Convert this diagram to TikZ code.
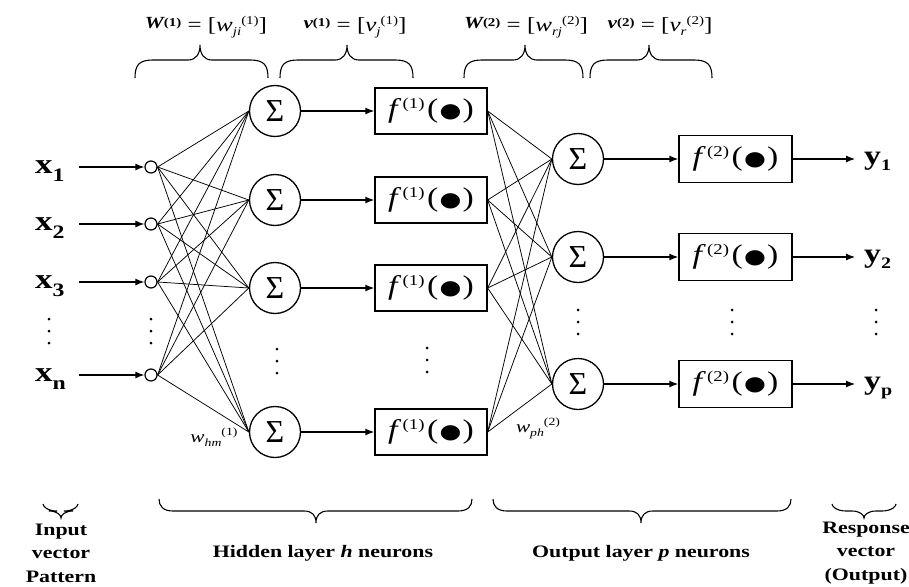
\documentclass[tikz,border=0pt]{standalone}
\usepackage{fontspec}
\setmainfont{Liberation Serif}
\newfontfamily\dejavu{DejaVu Sans}
\usepackage{graphicx}
\usetikzlibrary{arrows.meta}

\newcommand\hs[1]{\scalebox{1.25}[1]{#1}}
\newcommand\vlab[2]{\hs{\fontsize{28}{28}\selectfont\bfseries #1\raisebox{-8pt}{\fontsize{19}{19}\selectfont #2}}}
\newcommand\ylab[2]{\hs{\fontsize{27}{27}\selectfont\bfseries #1\raisebox{-6pt}{\fontsize{16}{16}\selectfont #2}}}
\newcommand\fn[1]{\hs{\fontsize{27}{27}\selectfont\textit{f}\kern1pt\raisebox{9pt}{\fontsize{15}{15}\selectfont(#1)}\kern2pt(\kern1pt{\dejavu\fontsize{20}{20}\selectfont ●}\kern1pt)}}
\newcommand\sumsym{\fontsize{32}{32}\selectfont Σ}
\newcommand\wlab[3]{\hs{\fontsize{17}{17}\selectfont\textit{#1}\raisebox{-4pt}{\fontsize{11}{11}\selectfont\textit{#2}}\raisebox{7pt}{\fontsize{11}{11}\selectfont(#3)}}}
\newcommand\toplab[4]{\hs{\fontsize{20}{20}\selectfont\raisebox{3pt}{\fontsize{17}{17}\selectfont\bfseries\itshape #1\raisebox{2pt}{\fontsize{12}{12}\selectfont\upshape(#2)}} = [\textit{#3}\raisebox{-4pt}{\fontsize{12}{12}\selectfont\textit{#4}}\raisebox{7pt}{\fontsize{12}{12}\selectfont(#2)}]}}
\newcommand\bracetop[3]{%
  \draw[bracestyle] (#1,78) .. controls (#1,65) and (#1+4,60) .. (#1+18,60) -- (#2-12,60)
    .. controls (#2-4,60) and (#2,54) .. (#2,45) .. controls (#2,54) and (#2+4,60) .. (#2+12,60)
    -- (#3-18,60) .. controls (#3-4,60) and (#3,65) .. (#3,78);}
\newcommand\bracebot[6]{%
  \draw[bracestyle] (#1,#4) .. controls (#1,#5-5) and (#1+4,#5) .. (#1+14,#5) -- (#2-12,#5)
    .. controls (#2-4,#5) and (#2,#5+4) .. (#2,#6) .. controls (#2,#5+4) and (#2+4,#5) .. (#2+12,#5)
    -- (#3-14,#5) .. controls (#3-4,#5) and (#3,#5-5) .. (#3,#4);}

\begin{document}
\begin{tikzpicture}[x=1pt,y=-1pt,
  conn/.style={line width=0.75pt},
  arr/.style={line width=1.4pt,-{Latex[length=9pt,width=7pt]}},
  sumnode/.style={circle,draw,line width=1.3pt,minimum size=51pt,inner sep=0pt},
  fbox/.style={draw,line width=1.3pt,minimum width=112pt,minimum height=46pt,inner sep=0pt},
  innode/.style={circle,draw,line width=1.2pt,minimum size=12pt,inner sep=0pt},
  bracestyle/.style={line width=1.1pt},
  botlab/.style={font=\fontsize{17.5}{23.5}\selectfont\bfseries,align=center},
  ]
\useasboundingbox (0,0) rectangle (909,586);

% input layer
\foreach \n/\y/\s in {1/167/1,2/224/2,3/282/3,n/375/n}{
  \node[innode] (i\n) at (151,\y) {};
  \node[anchor=base west,inner sep=0pt] (lx\n) at (35,\y+6) {\vlab{x}{\s}};
  \coordinate (ax\n) at (79,\y);
  \draw[arr] (ax\n) -- (i\n.west);
}

% hidden layer
\foreach \n/\y in {1/111,2/200,3/288,4/432}{
  \node[sumnode] (h\n) at (275,\y) {\sumsym};
  \node[fbox] (f\n) at (431,\y) {\fn{1}};
  \draw[arr] (h\n.east) -- (f\n.west);
}

% output layer
\foreach \n/\y/\s in {1/159/1,2/257/2,3/384/p}{
  \node[sumnode] (o\n) at (578,\y) {\sumsym};
  \node[fbox,minimum width=113pt,minimum height=47pt] (g\n) at (735.5,\y) {\fn{2}};
  \coordinate (ey\n) at (855,\y);
  \node[anchor=base west,inner sep=0pt] (ly\n) at (864,\y+5) {\ylab{y}{\s}};
  \draw[arr] (o\n.east) -- (g\n.west);
  \draw[arr,line width=1.1pt] (g\n.east) -- (ey\n);
}

% connections
\foreach \a in {1,2,3,n}{\foreach \b in {1,2,3,4}{\draw[conn] (i\a.east) -- (h\b.west);}}
\foreach \a in {1,2,3,4}{\foreach \b in {1,2,3}{\draw[conn] (f\a.east) -- (o\b.west);}}

% vertical dots
\foreach \x/\ya in {49/319,151/319,277/349,427/348,578/310,732/310,876/310}{
  \foreach \k in {0,1,2}{\fill (\x,\ya+\k*12) circle (1.5);}
}

% weight labels
\node[inner sep=0pt] (whm) at (214,437) {\wlab{w}{hm}{1}};
\node[inner sep=0pt] (wph) at (538,428) {\wlab{w}{ph}{2}};

% top labels and braces
\node[anchor=base,inner sep=0pt] (tW1) at (206,32) {\toplab{W}{1}{w}{ji}};
\node[anchor=base,inner sep=0pt] (tv1) at (355,32) {\toplab{v}{1}{v}{j}};
\node[anchor=base,inner sep=0pt] (tW2) at (526,32) {\toplab{W}{2}{w}{rj}};
\node[anchor=base,inner sep=0pt] (tv2) at (660,32) {\toplab{v}{2}{v}{r}};
\bracetop{135}{200}{268}
\bracetop{280}{347}{413}
\bracetop{464}{525}{583}
\bracetop{590}{649}{712}

% bottom braces and labels
\bracebot{43}{61}{78}{504}{511}{518}
\bracebot{159}{316}{472}{499}{511}{523}
\bracebot{493}{641}{791}{499}{511}{523}
\bracebot{832}{864}{896}{504}{511}{518}
\node[botlab] (bin) at (61,553) {\hs{Input}\\\hs{vector}\\\hs{Pattern}};
\node[botlab] (bhid) at (323,553) {\hs{Hidden layer \textit{h} neurons}};
\node[botlab] (bout) at (641,553) {\hs{Output layer \textit{p} neurons}};
\node[botlab] (bres) at (866,553) {\hs{Response}\\\hs{vector}\\\hs{(Output)}};
\end{tikzpicture}
\end{document}
